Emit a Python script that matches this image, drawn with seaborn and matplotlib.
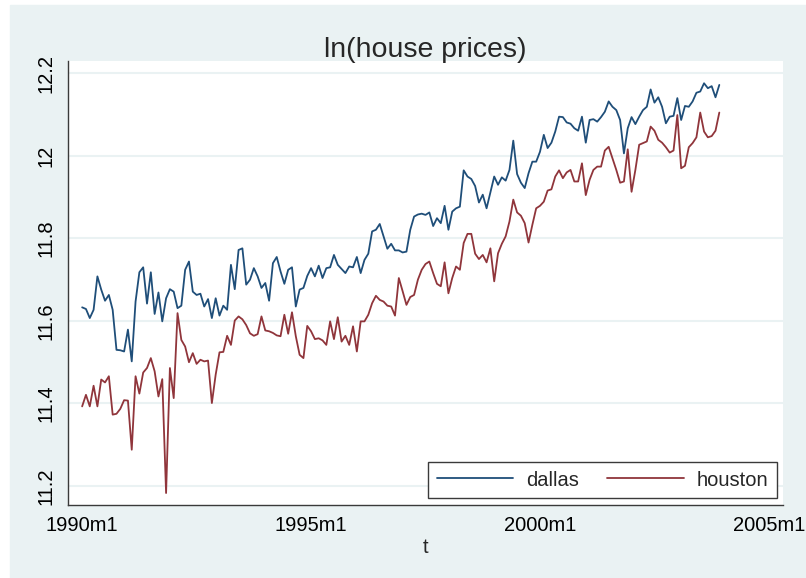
import numpy as np
import pandas as pd
import seaborn as sns
import matplotlib.pyplot as plt
from matplotlib.patches import Rectangle

# monthly ln(house prices), 1990m1 .. 2003m12
dallas = [
    11.633, 11.629, 11.607, 11.627, 11.708, 11.676, 11.649, 11.663, 11.627, 11.530,
    11.529, 11.526, 11.579, 11.502, 11.647, 11.718, 11.730, 11.642, 11.718, 11.617,
    11.669, 11.599, 11.655, 11.677, 11.671, 11.631, 11.637, 11.724, 11.744, 11.671,
    11.663, 11.666, 11.635, 11.653, 11.607, 11.655, 11.613, 11.637, 11.627, 11.736,
    11.677, 11.772, 11.776, 11.688, 11.700, 11.728, 11.708, 11.680, 11.692, 11.649,
    11.740, 11.755, 11.720, 11.690, 11.724, 11.730, 11.635, 11.676, 11.680, 11.709,
    11.728, 11.708, 11.734, 11.704, 11.728, 11.730, 11.760, 11.736, 11.726, 11.716,
    11.732, 11.730, 11.755, 11.716, 11.748, 11.763, 11.817, 11.821, 11.835, 11.805,
    11.775, 11.787, 11.771, 11.771, 11.766, 11.768, 11.821, 11.853, 11.858, 11.860,
    11.857, 11.863, 11.830, 11.849, 11.837, 11.879, 11.821, 11.865, 11.873, 11.877,
    11.965, 11.950, 11.944, 11.927, 11.887, 11.906, 11.873, 11.911, 11.950, 11.930,
    11.948, 11.940, 11.966, 12.037, 11.956, 11.935, 11.922, 11.958, 11.986, 11.986,
    12.010, 12.051, 12.019, 12.032, 12.059, 12.095, 12.094, 12.081, 12.078, 12.067,
    12.061, 12.095, 12.032, 12.087, 12.089, 12.083, 12.094, 12.107, 12.132, 12.119,
    12.111, 12.087, 12.006, 12.067, 12.094, 12.077, 12.095, 12.111, 12.119, 12.161,
    12.129, 12.142, 12.119, 12.079, 12.095, 12.097, 12.140, 12.087, 12.121, 12.119,
    12.132, 12.153, 12.156, 12.176, 12.164, 12.169, 12.142, 12.172,
]
houston = [
    11.393, 11.421, 11.393, 11.443, 11.393, 11.458, 11.451, 11.466, 11.373, 11.375,
    11.387, 11.408, 11.407, 11.288, 11.466, 11.424, 11.475, 11.486, 11.510, 11.478,
    11.417, 11.459, 11.183, 11.486, 11.413, 11.619, 11.554, 11.538, 11.500, 11.522,
    11.496, 11.506, 11.502, 11.504, 11.401, 11.470, 11.524, 11.525, 11.564, 11.542,
    11.601, 11.611, 11.604, 11.590, 11.570, 11.564, 11.568, 11.611, 11.577, 11.575,
    11.571, 11.565, 11.563, 11.615, 11.569, 11.621, 11.563, 11.518, 11.510, 11.588,
    11.575, 11.556, 11.558, 11.553, 11.542, 11.599, 11.556, 11.609, 11.550, 11.564,
    11.542, 11.587, 11.526, 11.599, 11.599, 11.615, 11.643, 11.661, 11.651, 11.647,
    11.637, 11.635, 11.613, 11.704, 11.672, 11.639, 11.658, 11.663, 11.700, 11.724,
    11.738, 11.744, 11.716, 11.690, 11.684, 11.742, 11.667, 11.704, 11.732, 11.724,
    11.789, 11.811, 11.811, 11.763, 11.750, 11.760, 11.742, 11.776, 11.696, 11.764,
    11.787, 11.805, 11.841, 11.894, 11.863, 11.855, 11.837, 11.790, 11.833, 11.873,
    11.879, 11.889, 11.916, 11.919, 11.950, 11.965, 11.946, 11.960, 11.966, 11.938,
    11.938, 11.982, 11.905, 11.942, 11.966, 11.974, 11.974, 12.013, 12.022, 11.994,
    11.966, 11.935, 11.938, 12.016, 11.913, 11.966, 12.027, 12.031, 12.035, 12.071,
    12.061, 12.039, 12.032, 12.021, 12.008, 12.013, 12.099, 11.970, 11.976, 12.021,
    12.031, 12.045, 12.105, 12.059, 12.045, 12.048, 12.061, 12.105,
]
xtick_pos = [0, 60, 120, 180]
xtick_labels = ['1990m1', '1995m1', '2000m1', '2005m1']
ytick_pos = [11.2, 11.4, 11.6, 11.8, 12.0, 12.2]
ytick_labels = ['11.2', '11.4', '11.6', '11.8', '12', '12.2']

t = np.arange(len(dallas))
df = pd.DataFrame({
    't': np.concatenate([t, t]),
    'price': dallas + houston,
    'city': ['dallas'] * len(dallas) + ['houston'] * len(houston),
})

sns.set_theme(style='white')
plt.rcParams['font.family'] = ['Liberation Sans', 'DejaVu Sans']

bg = '#eaf2f3'
fig = plt.figure(figsize=(8.06, 5.78), dpi=100, facecolor='white')
fig.patches.append(Rectangle((10 / 806, 0), 1 - 10 / 806, 1 - 5 / 578,
                             transform=fig.transFigure, color=bg, zorder=-1))
ax = fig.add_axes([0.0844, 0.1263, 0.8871, 0.7682])
ax.set_facecolor('white')

sns.lineplot(data=df, x='t', y='price', hue='city',
             palette={'dallas': '#1f4e79', 'houston': '#90353b'},
             linewidth=1.3, ax=ax, legend=False)

ax.set_xlim(-3.7, 183.7)
ax.set_ylim(11.154, 12.23)
ax.set_xticks(xtick_pos, xtick_labels)
ax.set_yticks(ytick_pos, ytick_labels)
ax.grid(axis='y', color=bg, linewidth=1.5)
ax.set_axisbelow(True)

for s in ['top', 'right']:
    ax.spines[s].set_visible(False)
for s in ['left', 'bottom']:
    ax.spines[s].set_color('#3a3a3a')
    ax.spines[s].set_linewidth(1.0)

ax.tick_params(axis='both', direction='out', length=5, width=1.0,
               color='#555555', labelsize=14.5, labelcolor='black')
ax.tick_params(axis='x', pad=3)
ax.tick_params(axis='y', pad=4)
for lab in ax.get_yticklabels():
    lab.set_rotation(90)
    lab.set_va('center')

ax.set_title('ln(house prices)', fontsize=20.5, pad=3)
ax.set_xlabel('t', fontsize=14.5, labelpad=2)
ax.set_ylabel('')

handles = ax.get_lines()[:2]
leg = ax.legend(handles, ['dallas', 'houston'], ncol=2, loc='lower right',
                bbox_to_anchor=(0.9916, 0.0158), borderaxespad=0,
                fontsize=14.5, handlelength=3.8, handletextpad=0.65,
                columnspacing=1.4, borderpad=0.42, fancybox=False,
                frameon=True, edgecolor='#3a3a3a', framealpha=1)
leg.get_frame().set_linewidth(1.0)

fig.savefig('out.png', dpi=100)
